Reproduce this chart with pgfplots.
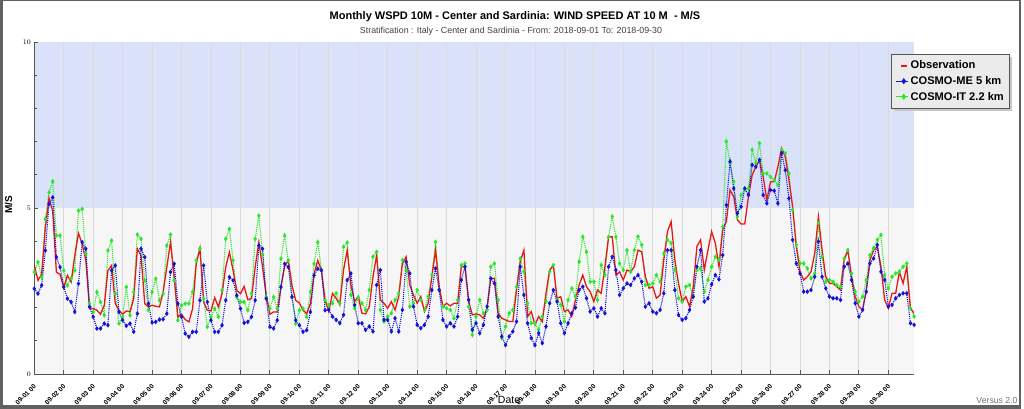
\documentclass[border=0pt]{standalone}
\usepackage{fontspec}
\setmainfont{Liberation Sans}
\usepackage{pgfplots}
\pgfplotsset{compat=1.18}
\usepackage{pgfplotstable}

\definecolor{obsred}{RGB}{230,25,25}
\definecolor{meblue}{RGB}{20,20,215}
\definecolor{itgreen}{RGB}{40,232,40}
\definecolor{bandblue}{RGB}{218,226,250}
\definecolor{bandgray}{RGB}{246,246,246}
\definecolor{gridgray}{RGB}{218,218,218}
\definecolor{framegray}{RGB}{85,85,85}

\pgfplotstableread{
k obs me it
0 3.27 2.57 3.07
1 2.82 2.42 3.37
2 3.00 2.67 2.92
3 4.40 3.72 4.67
4 5.30 5.12 5.47
5 4.90 5.32 5.80
6 3.07 3.52 4.17
7 3.00 3.22 4.17
8 2.60 2.62 3.12
9 2.97 2.27 2.67
10 2.77 2.17 2.87
11 3.57 1.87 3.12
12 4.24 2.72 4.92
13 3.92 3.97 4.97
14 3.42 3.77 3.62
15 1.97 2.02 2.12
16 1.97 1.72 1.87
17 1.92 1.37 2.47
18 1.80 1.37 2.17
19 2.07 1.52 1.77
20 3.12 1.47 3.72
21 3.27 3.12 4.02
22 2.12 3.27 2.42
23 1.92 1.87 1.52
24 1.80 1.62 1.72
25 1.90 1.45 2.62
26 1.87 1.52 1.77
27 2.27 1.27 2.47
28 3.77 1.82 4.20
29 3.57 3.77 4.07
30 2.12 3.52 2.82
31 2.02 2.12 1.92
32 2.07 1.55 2.47
33 2.04 1.57 2.87
34 2.02 1.64 2.22
35 2.47 1.65 2.42
36 3.22 1.82 3.87
37 3.97 3.07 4.20
38 2.92 3.32 2.82
39 1.72 2.12 1.62
40 1.80 1.72 2.07
41 1.64 1.22 2.12
42 1.57 1.12 2.12
43 1.97 1.27 2.47
44 3.32 1.27 3.42
45 3.80 2.22 3.77
46 2.17 3.27 2.27
47 1.92 2.17 1.42
48 1.90 1.62 1.72
49 2.30 1.27 1.97
50 2.02 1.27 1.72
51 2.42 1.47 2.52
52 3.22 2.22 4.07
53 3.67 2.92 4.37
54 3.12 2.82 3.42
55 2.52 2.37 2.32
56 2.42 1.97 2.17
57 2.64 1.54 2.17
58 2.24 1.57 1.92
59 2.27 1.72 2.42
60 3.22 2.22 4.07
61 3.97 3.87 4.77
62 3.22 3.77 3.62
63 2.37 2.27 2.32
64 1.80 1.42 1.97
65 1.87 1.37 2.32
66 1.87 1.62 1.97
67 2.62 2.62 3.47
68 3.24 3.32 4.17
69 3.42 3.22 3.42
70 2.67 2.32 2.32
71 2.22 1.62 1.52
72 2.14 1.47 1.92
73 1.92 1.27 1.97
74 1.82 1.32 1.72
75 2.12 1.87 2.47
76 3.02 2.97 3.32
77 3.42 3.17 3.97
78 3.12 3.12 3.12
79 2.22 1.92 2.22
80 1.88 1.93 2.08
81 2.43 1.73 2.13
82 2.28 1.63 2.43
83 2.08 1.53 2.13
84 3.13 1.78 3.83
85 3.73 2.83 3.96
86 2.68 3.03 2.38
87 2.18 2.08 1.98
88 2.33 1.53 2.31
89 1.83 1.53 2.13
90 1.81 1.33 1.93
91 2.03 1.43 2.53
92 2.93 1.28 3.53
93 3.58 2.68 3.68
94 2.23 3.13 1.93
95 2.13 1.63 1.58
96 1.98 1.63 1.73
97 2.18 1.28 1.83
98 1.93 1.68 2.23
99 2.33 1.28 2.43
100 3.33 1.93 3.43
101 3.53 3.38 3.13
102 2.68 3.03 2.03
103 2.38 2.03 2.13
104 2.13 1.48 2.53
105 2.33 1.38 2.23
106 1.88 1.48 1.93
107 2.13 1.73 2.33
108 2.93 2.53 2.98
109 3.73 3.18 3.98
110 2.63 2.53 2.53
111 2.03 1.63 2.03
112 2.13 1.43 1.98
113 2.05 1.53 1.93
114 2.13 1.43 1.68
115 2.13 1.73 2.23
116 3.23 2.83 3.28
117 3.23 3.23 3.33
118 2.18 2.23 2.03
119 1.78 1.33 1.18
120 1.81 1.53 1.73
121 1.78 1.23 2.23
122 1.68 1.48 1.83
123 1.98 2.03 1.93
124 2.88 2.88 3.23
125 2.88 2.73 3.33
126 1.83 1.73 2.23
127 1.68 1.13 1.08
128 1.63 0.87 1.43
129 1.58 1.13 1.83
130 1.58 1.28 1.93
131 2.53 1.58 2.63
132 3.38 3.23 3.48
133 3.73 2.38 3.08
134 1.73 1.53 2.13
135 1.88 1.08 1.53
136 1.48 0.87 1.53
137 1.73 1.23 1.33
138 1.58 0.93 1.73
139 2.43 1.43 2.18
140 3.13 2.13 3.08
141 3.28 2.53 3.28
142 2.28 2.18 2.23
143 2.33 1.53 2.08
144 1.88 1.23 1.58
145 1.93 1.53 2.23
146 1.73 1.83 2.58
147 2.23 2.00 2.33
148 2.68 2.53 3.38
149 2.98 2.63 4.13
150 2.63 2.28 3.68
151 2.48 1.88 2.78
152 2.18 1.98 2.78
153 2.53 1.73 2.23
154 2.43 1.98 3.28
155 3.23 1.83 2.98
156 4.13 3.23 4.13
157 4.13 3.53 4.74
158 2.98 3.13 4.13
159 3.08 2.38 3.33
160 2.83 2.58 3.13
161 3.13 2.73 3.73
162 3.08 2.68 3.08
163 3.23 2.88 3.73
164 3.73 2.98 4.14
165 3.68 2.78 3.89
166 2.93 2.03 2.68
167 2.58 2.13 2.68
168 2.63 1.88 2.73
169 2.28 1.83 2.98
170 2.38 1.93 2.78
171 3.43 2.43 3.63
172 4.29 3.73 4.04
173 4.59 3.73 3.94
174 3.43 2.53 3.13
175 2.73 1.78 2.28
176 2.18 1.63 2.18
177 2.33 1.68 2.63
178 2.03 1.93 2.68
179 2.63 2.33 2.33
180 3.84 3.23 3.13
181 4.04 3.73 3.18
182 3.13 2.18 2.48
183 3.73 2.28 2.83
184 4.29 2.70 3.23
185 3.94 2.98 3.53
186 3.23 2.85 3.43
187 4.34 3.58 4.44
188 4.59 5.09 7.00
189 5.54 6.40 6.35
190 5.34 5.59 5.79
191 4.64 4.84 4.74
192 4.52 5.04 5.39
193 4.52 5.59 5.54
194 5.34 5.39 5.59
195 5.99 6.30 6.75
196 6.24 6.24 6.35
197 6.45 6.45 6.95
198 5.94 5.39 6.04
199 5.24 5.14 6.04
200 5.79 5.54 5.94
201 5.79 5.52 5.84
202 6.24 5.14 5.69
203 6.80 6.65 6.75
204 6.55 6.14 6.65
205 5.84 5.29 6.04
206 5.04 4.04 4.94
207 3.84 3.33 3.89
208 3.08 3.03 3.33
209 2.83 2.48 3.33
210 2.93 2.48 3.18
211 3.08 2.53 2.88
212 3.63 2.93 3.03
213 4.74 3.99 4.54
214 3.73 2.93 3.53
215 2.93 2.58 2.78
216 2.73 2.33 2.83
217 2.73 2.28 2.78
218 2.63 2.28 2.68
219 2.53 2.23 2.63
220 3.43 3.23 3.48
221 3.73 3.33 3.73
222 2.93 2.83 3.03
223 2.33 2.13 2.48
224 2.03 1.73 2.18
225 1.93 1.93 2.33
226 2.53 2.48 2.83
227 3.43 3.33 3.58
228 3.73 3.48 3.79
229 3.84 3.89 4.04
230 3.23 3.08 4.19
231 2.23 2.83 2.98
232 1.98 2.03 2.58
233 2.43 2.08 2.93
234 2.43 2.28 3.03
235 3.08 2.38 3.08
236 2.73 2.43 3.23
237 3.23 2.43 3.33
238 1.98 1.53 1.98
239 1.83 1.48 1.73
}\data

\begin{document}
\begin{tikzpicture}
\fill[white] (0pt,0pt) rectangle (1024pt,409pt);
% frame
\fill[black!62] (0pt,0pt) rectangle (2.5pt,409pt);
\fill[black!62] (1018.5pt,0pt) rectangle (1021pt,409pt);
\fill[black!62] (0pt,0pt) rectangle (1021pt,3.5pt);
\fill[black!62] (0pt,407.6pt) rectangle (1021pt,409pt);
% background bands of the plot area
\fill[bandgray] (34.3pt,35pt) rectangle (914.1pt,201pt);
\fill[bandblue] (34.3pt,201pt) rectangle (914.1pt,367pt);
% legend shadow
\fill[black!22] (894pt,298pt) rectangle (1012pt,352pt);

\node[font=\bfseries\fontsize{11}{13}\selectfont] at (515pt,392pt) {Monthly WSPD 10M - Center and Sardinia: WIND SPEED AT 10 M\ \ - M/S};
\node[font=\fontsize{8.85}{10}\selectfont, text=black!75] at (511pt,378pt) {Stratification : Italy - Center and Sardinia - From: 2018-09-01 To: 2018-09-30};
\node[font=\fontsize{10.5}{12}\selectfont] at (509pt,9pt) {Date};
\node[font=\fontsize{8.7}{10}\selectfont, text=black!55] at (997pt,8pt) {Versus 2.0};
\node[font=\bfseries\fontsize{10}{12}\selectfont, rotate=90] at (8.5pt,204pt) {M/S};

\begin{axis}[
  at={(34.3pt,35pt)}, anchor=south west,
  scale only axis, width=879.8pt, height=332pt,
  xmin=0, xmax=239, ymin=0, ymax=10,
  axis x line*=bottom, axis y line*=left,
  axis line style={framegray, line width=0.9pt, -},
  xtick={0,8,...,232},
  xticklabels={09-01 00,09-02 00,09-03 00,09-04 00,09-05 00,09-06 00,09-07 00,09-08 00,09-09 00,09-10 00,09-11 00,09-12 00,09-13 00,09-14 00,09-15 00,09-16 00,09-17 00,09-18 00,09-19 00,09-20 00,09-21 00,09-22 00,09-23 00,09-24 00,09-25 00,09-26 00,09-27 00,09-28 00,09-29 00,09-30 00},
  ytick={0,5,10}, minor ytick={1,2,3,4,6,7,8,9},
  tick align=inside, major tick length=4pt, minor tick length=3pt,
  tick style={framegray, line width=0.8pt},
  xmajorgrids, major x grid style={gridgray, line width=0.8pt},
  xticklabel style={font=\bfseries\fontsize{6.6}{8}\selectfont, inner sep=0pt, xshift=-1pt, yshift=-9.5pt, rotate=45, anchor=north east},
  yticklabel style={font=\bfseries\fontsize{6.8}{8}\selectfont},
  legend style={at={(0.9737,0.9639)}, anchor=north west, fill=black!8, draw=framegray, line width=0.8pt, font=\bfseries\fontsize{11.1}{12.5}\selectfont, inner xsep=3.5pt, inner ysep=4.5pt, row sep=2pt},
  legend cell align=left,
  legend image code/.code={\draw[#1, mark=none, solid] (0pt,0pt) -- (12pt,0pt); \draw[#1, only marks] plot coordinates {(8pt,0pt)};},
]
\addlegendimage{draw=obsred, color=obsred, line width=1.8pt, shorten <=5pt, shorten >=1pt}
\addlegendentry{Observation}
\addlegendimage{color=meblue, line width=1.1pt, mark=diamond*, mark size=2.2pt}
\addlegendentry{COSMO-ME 5 km}
\addlegendimage{color=itgreen, line width=1.1pt, mark=diamond*, mark size=2.2pt}
\addlegendentry{COSMO-IT 2.2 km}

\addplot[forget plot, itgreen, line width=1.1pt, densely dotted, mark=diamond*, mark size=1.5pt, mark options={solid}] table[x=k, y=it] {\data};
\addplot[forget plot, obsred, line width=1.3pt] table[x=k, y=obs] {\data};
\addplot[forget plot, meblue, line width=1.1pt, densely dotted, mark=diamond*, mark size=1.5pt, mark options={solid}] table[x=k, y=me] {\data};
\end{axis}
\end{tikzpicture}
\end{document}
